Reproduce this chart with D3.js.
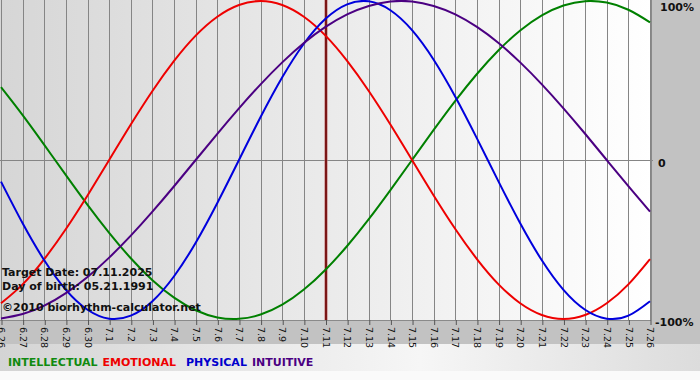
<!DOCTYPE html>
<html><head><meta charset="utf-8">
<script src="https://cdn.jsdelivr.net/npm/d3@7"></script>
<style>body{margin:0;background:#fff}svg{display:block}</style>
</head><body><div id="c"></div>
<script>
const dates = ["6.26","6.27","6.28","6.29","6.30","7.1","7.2","7.3","7.4","7.5","7.6","7.7","7.8","7.9","7.10","7.11","7.12","7.13","7.14","7.15","7.16","7.17","7.18","7.19","7.20","7.21","7.22","7.23","7.24","7.25","7.26"];
const intellectual = [45.8,28.2,9.5,-9.5,-28.2,-45.8,-61.8,-75.6,-86.6,-94.5,-99.0,-99.9,-97.2,-91.0,-81.5,-69.0,-54.1,-37.2,-18.9,0,18.9,37.2,54.1,69.0,81.5,91.0,97.2,99.9,99.0,94.5,86.6];
const emotional = [-90.1,-78.2,-62.3,-43.4,-22.3,0,22.3,43.4,62.3,78.2,90.1,97.5,100,97.5,90.1,78.2,62.3,43.4,22.3,0,-22.3,-43.4,-62.3,-78.2,-90.1,-97.5,-100,-97.5,-90.1,-78.2,-62.3];
const physical = [-13.6,-39.8,-63.1,-81.7,-94.2,-99.8,-97.9,-88.8,-73.1,-52.0,-27.0,0,27.0,52.0,73.1,88.8,97.9,99.8,94.2,81.7,63.1,39.8,13.6,-13.6,-39.8,-63.1,-81.7,-94.2,-99.8,-97.9,-88.8];
const intuitive = [-99.7,-96.9,-91.6,-83.7,-73.6,-61.4,-47.6,-32.5,-16.5,0,16.5,32.5,47.6,61.4,73.6,83.7,91.6,96.9,99.7,99.7,96.9,91.6,83.7,73.6,61.4,47.6,32.5,16.5,0,-16.5,-32.5];
const seriesNames = ["INTELLECTUAL","EMOTIONAL","PHYSICAL","INTUITIVE"];
const targetDate = "7.11";
const infoLines = ["Target Date: 07.11.2025","Day of birth: 05.21.1991","©2010 biorhythm-calculator.net"];
const yTicks = [100, 0, -100];

(function(){
const W = 700, H = 380;
const colors = ["#008000","#ee0000","#0000dd","#4b0082"];
const legendColors = ["#108a10","#ee0000","#0000cc","#4b0082"];
const series = [intellectual, emotional, physical, intuitive];

const svg = d3.select("#c").append("svg").attr("width", W).attr("height", H);
const defs = svg.append("defs");
const g1 = defs.append("linearGradient").attr("id","plotbg").attr("x1","0").attr("x2","1").attr("y1","0").attr("y2","0");
g1.append("stop").attr("offset","0").attr("stop-color","#d6d6d6");
g1.append("stop").attr("offset","1").attr("stop-color","#ffffff");
const g2 = defs.append("linearGradient").attr("id","legbg").attr("x1","0").attr("x2","1").attr("y1","0").attr("y2","0");
g2.append("stop").attr("offset","0").attr("stop-color","#d4d4d4");
g2.append("stop").attr("offset","0.6").attr("stop-color","#f6f6f6");
g2.append("stop").attr("offset","1").attr("stop-color","#dcdcdc");
defs.append("clipPath").attr("id","clip").append("rect")
  .attr("x", 0).attr("y", 0).attr("width", 651).attr("height", 321);

svg.append("rect").attr("width", W).attr("height", H).attr("fill", "#fafafa");
svg.append("rect").attr("width", W).attr("height", 344).attr("fill", "#c2c2c2");
svg.append("rect").attr("y", 344).attr("width", W).attr("height", 27).attr("fill", "url(#legbg)");

const pL = 0, pR = 651, pT = 0, pB = 320;
const x = d3.scalePoint().domain(dates).range([1, 650]);
const y = d3.scaleLinear().domain([-100, 100]).range([319, 1]);

svg.append("rect").attr("x", pL).attr("y", pT).attr("width", pR-pL).attr("height", pB-pT).attr("fill", "url(#plotbg)");

svg.append("g").selectAll("line").data(dates).join("line")
  .attr("x1", d => Math.round(x(d)) + 0.5).attr("x2", d => Math.round(x(d)) + 0.5)
  .attr("y1", pT).attr("y2", pB)
  .attr("stroke", "#858585").attr("stroke-width", 1);
svg.append("line").attr("x1", pL).attr("x2", pR + 2)
  .attr("y1", Math.round(y(0)) + 0.5).attr("y2", Math.round(y(0)) + 0.5)
  .attr("stroke", "#858585");
svg.append("line").attr("x1", pL).attr("x2", pR).attr("y1", pB + 0.5).attr("y2", pB + 0.5).attr("stroke", "#8a8a8a");
svg.append("line").attr("x1", pR + 0.5).attr("x2", pR + 0.5).attr("y1", pT).attr("y2", pB).attr("stroke", "#8a8a8a");

const xAxis = d3.axisBottom(x).tickSize(5).tickSizeOuter(0);
const ax = svg.append("g").attr("transform", `translate(0,${pB})`).call(xAxis);
ax.select(".domain").remove();
ax.selectAll(".tick line").attr("stroke", "#555").attr("transform", "translate(0.5,0)");
ax.selectAll(".tick text")
  .attr("transform", "rotate(90)")
  .attr("x", 7).attr("y", 0).attr("dy", "0.35em")
  .attr("text-anchor", "start")
  .attr("fill", "#111")
  .style("font-family", "'DejaVu Sans', Verdana, sans-serif")
  .style("font-size", "9.5px");

const tx = Math.round(x(targetDate));
svg.append("line").attr("x1", tx).attr("x2", tx).attr("y1", pT).attr("y2", pB)
  .attr("stroke", "#c07070").attr("stroke-width", 3);
svg.append("line").attr("x1", tx).attr("x2", tx).attr("y1", pT).attr("y2", pB)
  .attr("stroke", "#6a0000").attr("stroke-width", 1.6);

const line = d3.line().x((d, i) => x(dates[i])).y(d => y(d)).curve(d3.curveNatural);
const cg = svg.append("g").attr("clip-path", "url(#clip)");
series.forEach((s, k) => {
  cg.append("path").datum(s).attr("d", line)
    .attr("fill", "none").attr("stroke", colors[k]).attr("stroke-width", 2);
});

const yl = svg.append("g").style("font-family", "'DejaVu Sans', Verdana, sans-serif")
  .style("font-weight", "bold").style("font-size", "11px").attr("fill", "#111");
yl.selectAll("text").data(yTicks).join("text")
  .attr("x", d => d === 0 ? 658 : (d > 0 ? 660 : 655))
  .attr("y", d => d > 0 ? y(d) + 10 : y(d) + 7)
  .text(d => d === 0 ? "0" : d + "%");

svg.append("g").style("font-family", "'DejaVu Sans', Verdana, sans-serif")
  .style("font-weight", "bold").style("font-size", "11px").attr("fill", "#111")
  .selectAll("text").data(infoLines).join("text")
  .attr("x", 2).attr("y", (d, i) => [276, 290, 311][i]).text(d => d);

const lt = svg.append("text").attr("x", 8).attr("y", 366)
  .style("font-family", "'DejaVu Sans', Verdana, sans-serif")
  .style("font-weight", "bold").style("font-size", "11px");
seriesNames.forEach((n, k) => {
  lt.append("tspan").attr("dx", k === 0 ? 0 : (k === 2 ? 10 : 5)).attr("fill", legendColors[k]).text(n);
});
})();
</script>
</body></html>
